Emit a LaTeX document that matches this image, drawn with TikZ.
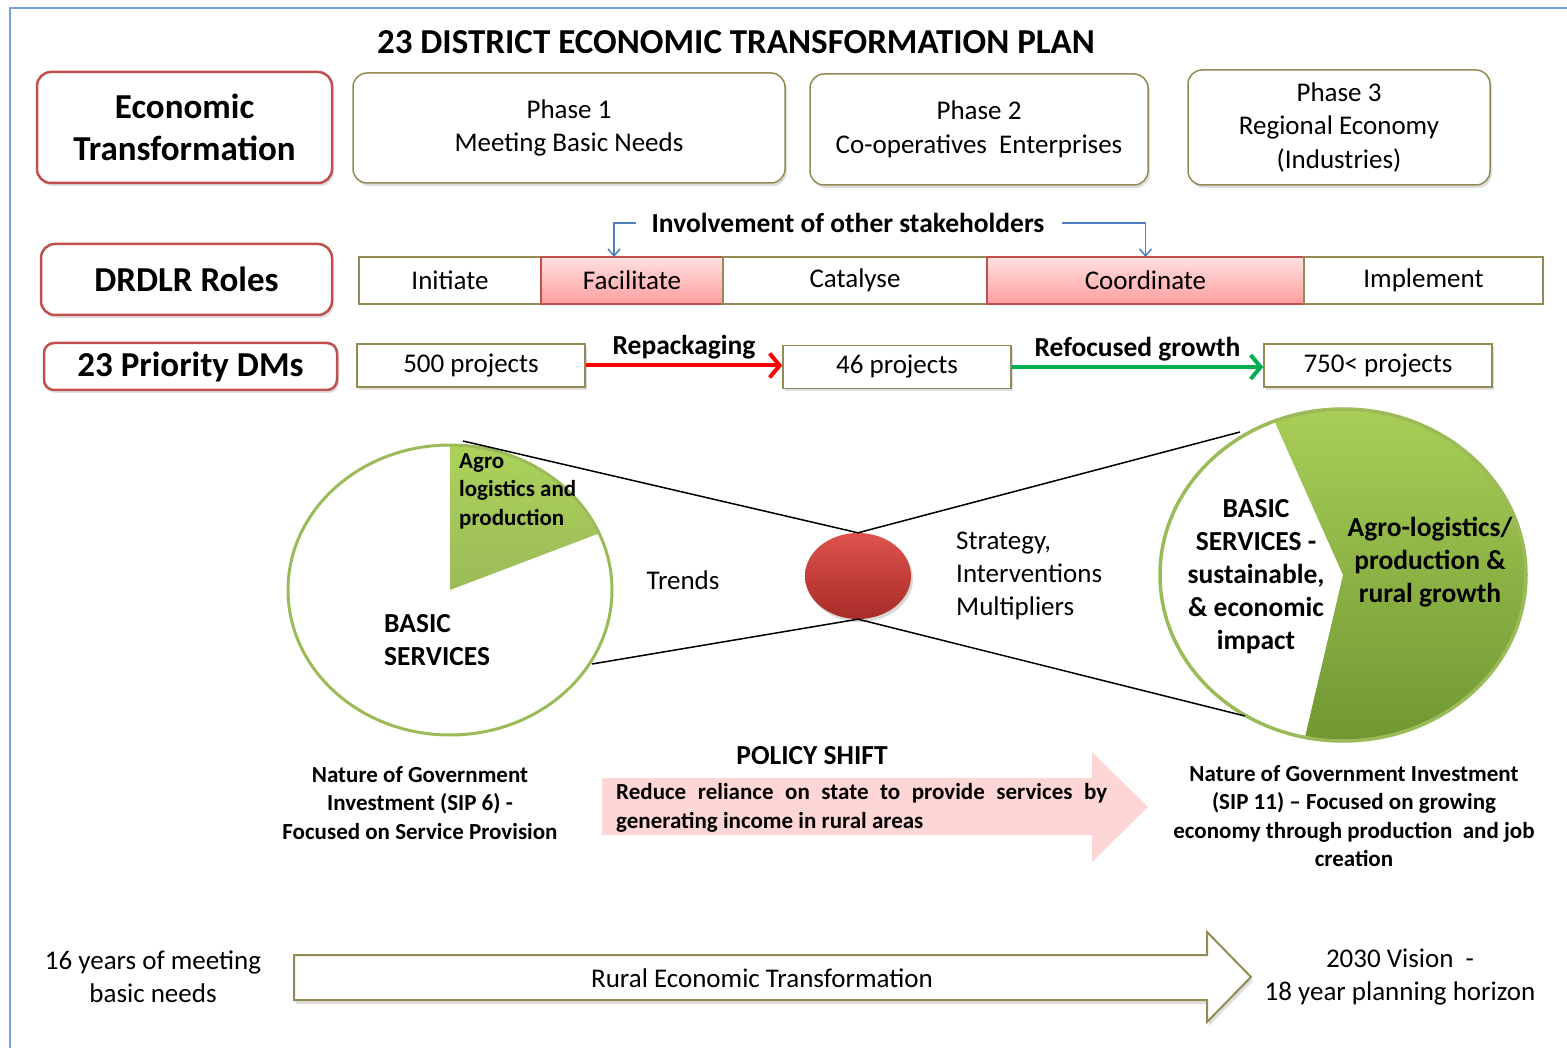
\documentclass[tikz,border=0pt]{standalone}
\usepackage{fontspec}
\setmainfont{Carlito}
\usetikzlibrary{positioning,shadows,arrows.meta,shapes.geometric}

\definecolor{boxred}{RGB}{192,80,77}
\definecolor{olivebrd}{RGB}{148,138,84}
\definecolor{leaf}{RGB}{155,187,89}
\definecolor{leaftop}{RGB}{172,210,90}
\definecolor{leafdark}{RGB}{112,150,50}
\definecolor{linkblue}{RGB}{79,129,189}
\definecolor{frameblue}{RGB}{120,160,215}
\definecolor{arrowgreen}{RGB}{0,176,80}
\definecolor{shiftpink}{RGB}{255,214,214}
\definecolor{balltop}{RGB}{222,82,76}
\definecolor{ballbot}{RGB}{168,44,40}

\begin{document}
\begin{tikzpicture}
    [   x=1pt, y=-1pt,
        softshadow/.style={drop shadow={shadow xshift=2pt, shadow yshift=-3pt, opacity=0.25}},
        headbox/.style={draw=boxred, line width=2.5pt, rounded corners=14pt, fill=white,
            align=center, font=\fontsize{35}{42}\selectfont\bfseries, softshadow},
        phasebox/.style={draw=olivebrd, line width=1.5pt, rounded corners=14pt, fill=white,
            align=center, font=\fontsize{27}{33.5}\selectfont, softshadow},
        rolebox/.style={draw=olivebrd, line width=1.5pt, fill=white, outer sep=0pt,
            minimum height=47pt, font=\fontsize{27}{30}\selectfont},
        hotbox/.style={rolebox, draw=boxred, top color=red!12, bottom color=red!38},
        projbox/.style={draw=olivebrd, line width=1.5pt, fill=white, minimum width=228pt,
            minimum height=43pt, font=\fontsize{27}{30}\selectfont, softshadow},
        txt/.style={align=center, inner sep=0pt, text=black, font=\fontsize{27}{33}\selectfont},
        boldtxt/.style={txt, font=\fontsize{27.5}{33}\selectfont\bfseries},
        smalltxt/.style={txt, font=\fontsize{23}{28.5}\selectfont\bfseries},
        elbow/.style={draw=linkblue, line width=1.5pt, -{Straight Barb[length=7pt,width=12pt]}},
    ]
    \useasboundingbox (0,0) rectangle (1567,1048);

    % frame and title
    \draw[frameblue, line width=1.5pt] (10,1048) -- (10,8) -- (1567,8);
    \node[txt, font=\fontsize{35}{40}\selectfont\bfseries] (title) at (736,42)
        {23 DISTRICT ECONOMIC TRANSFORMATION PLAN};

    % phases
    \node[headbox, minimum width=295pt, minimum height=111pt] (econ) at (184.5,127.5)
        {Economic\\Transformation};
    \node[phasebox, minimum width=432pt, minimum height=110pt] (ph1) at (569,128)
        {Phase 1\\Meeting Basic Needs};
    \node[phasebox, minimum width=338pt, minimum height=111pt] (ph2) at (979,129.5)
        {Phase 2\\Co-operatives~ Enterprises};
    \node[phasebox, minimum width=302pt, minimum height=115pt] (ph3) at (1339,127.5)
        {Phase 3\\Regional Economy\\(Industries)};

    % roles
    \node[headbox, minimum width=291pt, minimum height=71pt] (roles) at (186.5,279.5) {DRDLR Roles};
    \node[rolebox, minimum width=182pt] (initiate) at (450,280.5) {Initiate};
    \node[hotbox, minimum width=182pt, right=0pt of initiate] (facil) {Facilitate};
    \node[rolebox, minimum width=264pt, right=0pt of facil] (catal) {Catalyse};
    \node[hotbox, minimum width=317pt, right=0pt of catal] (coord) {Coordinate};
    \node[rolebox, minimum width=239pt, right=0pt of coord] (implem) {Implement};

    \node[boldtxt] (inv) at (848,223) {Involvement of other stakeholders};
    \draw[elbow] ([xshift=-15pt]inv.west) -| ([xshift=-18pt]facil.north);
    \draw[elbow] ([xshift=17pt]inv.east) -| (coord.north);

    % priority DMs
    \node[headbox, minimum width=293pt, minimum height=47pt, rounded corners=10pt] (dms) at (190.5,366.5)
        {23 Priority DMs};
    \node[projbox] (p500) at (471,365.5) {500 projects};
    \node[projbox] (p46) at (897,367) {46 projects};
    \node[projbox] (p750) at (1378,365.5) {750< projects};

    \draw[red, line width=4pt, -{Straight Barb[length=10pt,width=24pt]}] (p500.east) -- (p500.east -| p46.west)
        node[midway, above=4pt, boldtxt] {Repackaging};
    \draw[arrowgreen, line width=4pt, -{Straight Barb[length=10pt,width=24pt]}] (p46.east) -- (p46.east -| p750.west)
        node[midway, above=4pt, boldtxt] {Refocused growth};

    % left pie
    \coordinate (cl) at (450,590);
    \fill[white] (cl) ellipse [x radius=162pt, y radius=145pt];
    \shade[top color=leaftop, bottom color=leaf] (cl) -- ++(0pt,145pt)
        arc[start angle=90, end angle=23, x radius=162pt, y radius=145pt] -- cycle;
    \draw[leaf, line width=3pt] (cl) ellipse [x radius=162pt, y radius=145pt];
    \node[smalltxt, align=left, anchor=west] (agro) at (459,491) {Agro\\logistics and\\production};
    \node[boldtxt, align=left, anchor=west] (basicl) at (384,640) {BASIC\\SERVICES};

    % right pie
    \coordinate (cr) at (1343,575);
    \fill[white] (cr) ellipse [x radius=183pt, y radius=166pt];
    \shade[top color=leaftop, bottom color=leafdark] (cr) -- ++(112:183pt and 166pt)
        arc[start angle=112, end angle=-102, x radius=183pt, y radius=166pt] -- cycle;
    \draw[leaf, line width=3.5pt] (cr) ellipse [x radius=183pt, y radius=166pt];
    \node[boldtxt] (basicr) at (1256,577) {BASIC\\SERVICES -\\sustainable,\\\& economic\\impact};
    \node[boldtxt] (agror) at (1430,562) {Agro-logistics/\\production \&\\rural growth};

    % the lens
    \node[ellipse, minimum width=106pt, minimum height=86pt, top color=balltop, bottom color=ballbot,
        drop shadow={shadow xshift=2pt, shadow yshift=-3pt, opacity=0.3}] (ball) at (858,576) {};
    \coordinate (lt) at (463,441);
    \coordinate (lb) at (592,664);
    \coordinate (rt) at (1240,432);
    \coordinate (rb) at (1245,716);
    \draw[line width=1.5pt] (lt) -- (ball.north) -- (rt);
    \draw[line width=1.5pt] (lb) -- (ball.south) -- (rb);

    \node[txt] (trends) at (683,580) {Trends};
    \node[txt, align=left, anchor=west] (strat) at (956,576) {Strategy,\\Interventions\\Multipliers};

    % policy shift
    \node[smalltxt] (natl) at (420,803) {Nature of Government\\Investment (SIP 6) -\\Focused on Service Provision};
    \node[boldtxt] (policy) at (812,756) {POLICY SHIFT};
    \fill[shiftpink] (602,778) -- (1092,778) -- (1092,752) -- (1148,807) -- (1092,862)
        -- (1092,835) -- (602,835) -- cycle;
    \node[smalltxt, align=left, anchor=west] (reduce) at (616,808)
        {\makebox[491pt][s]{Reduce reliance on state to provide services by}\\generating income in rural areas};
    \node[smalltxt] (natr) at (1354,816)
        {Nature of Government Investment\\(SIP 11) -- Focused on growing\\economy through production~ and job\\creation};

    % timeline
    \draw[olivebrd, line width=2pt, fill=white, drop shadow={shadow xshift=2pt, shadow yshift=-4pt, opacity=0.25}]
        (294,955) -- (1207,955) -- (1207,932) -- (1251,977) -- (1207,1022) -- (1207,1000) -- (294,1000) -- cycle;
    \node[txt] (rural) at (762,978) {Rural Economic Transformation};
    \node[txt] (years) at (153,977) {16 years of meeting\\basic needs};
    \node[txt] (vision) at (1400,977) {2030 Vision~ -\\18 year planning horizon};
\end{tikzpicture}
\end{document}
